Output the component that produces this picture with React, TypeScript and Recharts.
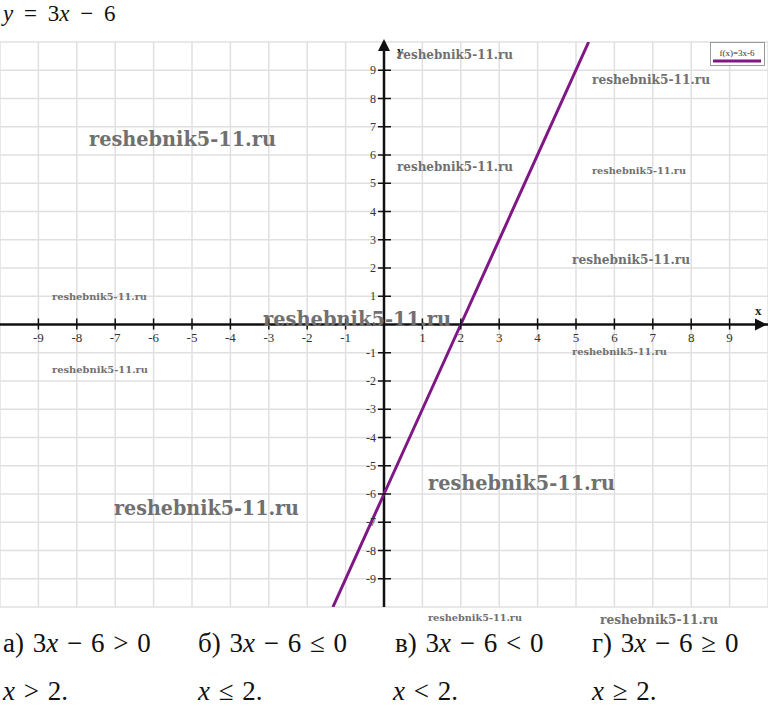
import React from 'react';
import { LineChart, Line, XAxis, YAxis, CartesianGrid, ReferenceLine } from 'recharts';

const lineX = [-1.33, 0, 2, 5.33];
const lineY = [-10, -6, 0, 10];

const xTicks = [-9, -8, -7, -6, -5, -4, -3, -2, -1, 1, 2, 3, 4, 5, 6, 7, 8, 9];
const yTicks = [-9, -8, -7, -6, -5, -4, -3, -2, -1, 1, 2, 3, 4, 5, 6, 7, 8, 9];

const legendLabel = 'f(x)=3x-6';
const watermark = 'reshebnik5-11.ru';

// [x, baseline, fontSize, width]
const watermarks: [number, number, number, number][] = [
  [397, 59, 13, 116],
  [592, 84, 13, 118],
  [89, 146, 20, 187],
  [397, 171, 13, 116],
  [592, 174, 10, 94],
  [572, 264, 13, 118],
  [52, 300, 10, 95],
  [263, 326, 20, 188],
  [572, 355, 10, 95],
  [52, 373, 10, 96],
  [428, 490, 20, 187],
  [114, 515, 20, 185],
  [428, 621, 10, 94],
  [600, 624, 13, 118],
];

const inequalities = [
  { label: 'а)', rel: '>', x: 3 },
  { label: 'б)', rel: '≤', x: 198 },
  { label: 'в)', rel: '<', x: 395 },
  { label: 'г)', rel: '≥', x: 592 },
];
const answers = [
  { rel: '>', x: 3 },
  { rel: '≤', x: 198 },
  { rel: '<', x: 393 },
  { rel: '≥', x: 592 },
];

const data = lineX.map((x, i) => ({ x, y: lineY[i] }));

const W = 768;
const H = 728;
const TOP = 42;
const BOTTOM = 121;
const AXIS_W = 20; // y axis strip kept off-screen on the left
const AXIS_H = 20;
const AXIS_X = AXIS_W + W / 2;
const AXIS_Y = TOP + (H - TOP - BOTTOM) / 2;
const serif = '"Liberation Serif", "Times New Roman", serif';

const XTick = (props: any) => {
  const { x, payload } = props;
  return (
    <g>
      <line x1={x} x2={x} y1={AXIS_Y - 6} y2={AXIS_Y + 5} stroke="#111" strokeWidth={1.5} />
      <text x={x} y={AXIS_Y + 17} textAnchor="middle" fontFamily={serif} fontSize={13} fill="#333">
        {payload.value}
      </text>
    </g>
  );
};

const YTick = (props: any) => {
  const { y, payload } = props;
  return (
    <g>
      <line x1={AXIS_X - 6} x2={AXIS_X + 7} y1={y} y2={y} stroke="#111" strokeWidth={1.5} />
      <text x={AXIS_X - 8} y={y + 4} textAnchor="end" fontFamily={serif} fontSize={12} fill="#333">
        {payload.value}
      </text>
    </g>
  );
};

export default function App() {
  return (
    <div style={{ position: 'absolute', left: 0, top: 0, width: W, height: H, background: '#fff', overflow: 'hidden' }}>
      <div style={{ position: 'absolute', left: -AXIS_W, top: 0 }}>
        <LineChart
          width={W + AXIS_W}
          height={H}
          data={data}
          margin={{ top: TOP, bottom: BOTTOM - AXIS_H, left: 0, right: 0 }}
        >
          <CartesianGrid stroke="#e0e0e0" strokeWidth={1.5} />
          <XAxis
            type="number"
            dataKey="x"
            domain={[-10, 10]}
            ticks={xTicks}
            height={AXIS_H}
            axisLine={false}
            tickLine={false}
            tick={(p: any) => <XTick {...p} />}
            interval={0}
            allowDataOverflow
          />
          <YAxis
            type="number"
            domain={[-10, 10]}
            ticks={yTicks}
            width={AXIS_W}
            axisLine={false}
            tickLine={false}
            tick={(p: any) => <YTick {...p} />}
            interval={0}
            allowDataOverflow
          />
          <ReferenceLine x={0} stroke="#111" strokeWidth={2.5} />
          <ReferenceLine y={0} stroke="#111" strokeWidth={2.5} />
          <Line
            type="linear"
            dataKey="y"
            stroke="#7f1784"
            strokeWidth={3}
            dot={false}
            isAnimationActive={false}
          />
        </LineChart>
      </div>

      <svg width={W} height={H} style={{ position: 'absolute', left: 0, top: 0, pointerEvents: 'none' }}>
        {/* axis arrows and names */}
        <polygon points={`${W / 2},${TOP - 3} ${W / 2 - 6},${TOP + 9} ${W / 2 + 6},${TOP + 9}`} fill="#111" />
        <polygon points={`${W - 1},${AXIS_Y} ${W - 13},${AXIS_Y - 6} ${W - 13},${AXIS_Y + 6}`} fill="#111" />
        <text x={397} y={55} fontFamily={serif} fontWeight="bold" fontSize={13} fill="#222">y</text>
        <text x={755} y={315} fontFamily={serif} fontWeight="bold" fontSize={13} fill="#222">x</text>

        {/* legend */}
        <rect x={710.5} y={42.5} width={54} height={23} fill="#fff" stroke="#999" strokeWidth={1} />
        <text x={737} y={56} textAnchor="middle" fontFamily={serif} fontSize={9} fill="#333">{legendLabel}</text>
        <line x1={713} x2={761} y1={61} y2={61} stroke="#7f1784" strokeWidth={3} />

        {/* watermarks */}
        {watermarks.map(([x, y, fs, w], i) => (
          <text
            key={i}
            x={x}
            y={y}
            fontFamily='"DejaVu Serif", serif'
            fontWeight="bold"
            fontSize={fs}
            fill="#707070"
            textLength={w}
            lengthAdjust="spacingAndGlyphs"
          >
            {watermark}
          </text>
        ))}

        {/* title */}
        <text x={3} y={21} fontFamily={serif} fontSize={23} fill="#111" style={{ wordSpacing: 5 }}>
          <tspan fontStyle="italic">y</tspan> = 3<tspan fontStyle="italic">x</tspan> − 6
        </text>

        {/* inequalities */}
        {inequalities.map((q, i) => (
          <text key={i} x={q.x} y={652} fontFamily={serif} fontSize={27} fill="#111" style={{ wordSpacing: 2 }}>
            {q.label} 3<tspan fontStyle="italic">x</tspan> − 6 {q.rel} 0
          </text>
        ))}
        {answers.map((a, i) => (
          <text key={i} x={a.x} y={700} fontFamily={serif} fontSize={27} fill="#111" style={{ wordSpacing: 2 }}>
            <tspan fontStyle="italic">x</tspan> {a.rel} 2.
          </text>
        ))}
      </svg>
    </div>
  );
}
